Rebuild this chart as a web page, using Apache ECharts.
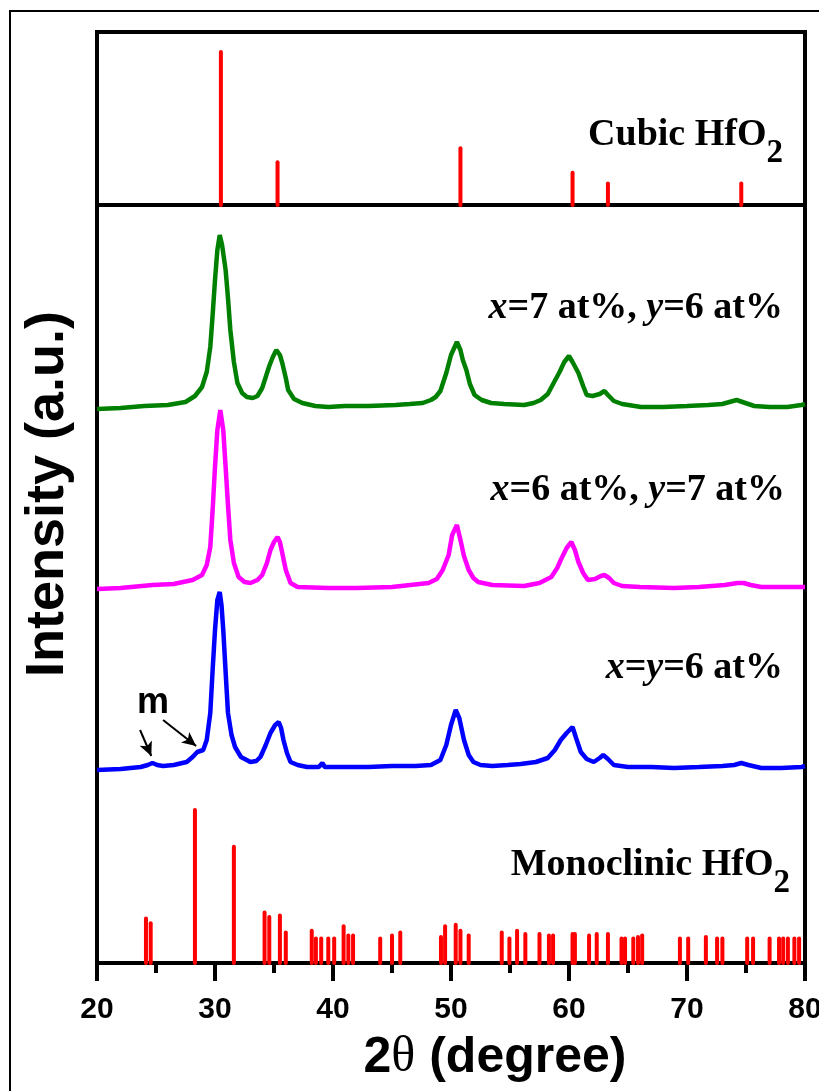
<!DOCTYPE html>
<html>
<head>
<meta charset="utf-8">
<script src="https://cdn.jsdelivr.net/npm/echarts@6/dist/echarts.min.js"></script>
<style>
html,body{margin:0;padding:0;background:#fff;}
#chart{width:819px;height:1091px;}
</style>
</head>
<body>
<div id="chart"></div>
<script>
// ---------- DATA ----------
const xMin = 20, xMax = 80, xStep = 10;

// Cubic HfO2 reference lines (2theta, relative intensity)
const cubicTheta = [30.5, 35.3, 50.8, 60.3, 63.3, 74.6];
const cubicInt   = [100, 28, 37, 21, 14, 14];

// Monoclinic HfO2 reference lines
const monoTheta = [24.15, 24.55, 28.3, 31.6, 34.2, 34.6, 35.5, 36.0, 38.2, 38.55, 39.0, 39.6, 40.1, 40.9, 41.3, 41.7,
  44.0, 45.0, 45.7, 49.15, 49.5, 50.4, 50.8, 51.5, 54.3, 54.95, 55.6, 56.3, 57.5, 58.3, 58.65, 60.3, 60.5,
  61.7, 62.35, 63.3, 64.45, 64.75, 65.45, 65.85, 66.2, 69.4, 70.1, 71.6, 72.55, 73.0, 75.1, 75.6, 77.0,
  77.8, 78.15, 78.55, 79.1, 79.5];
const monoInt = [29, 26, 100, 76, 33, 30, 31, 20, 21, 16, 16, 16, 16, 24, 18, 18,
  16, 18, 20, 17, 24, 25, 21, 18, 20, 16, 21, 19, 19, 18, 18, 19, 19,
  18, 19, 19, 16, 16, 16, 17, 18, 16, 16, 17, 16, 16, 16, 16, 16,
  16, 16, 16, 16, 16];

// XRD patterns (2theta, stacked intensity a.u.)
const greenCurve = [[20,381],[22,382],[24,384],[26,385],[27.5,388],[28.3,394],[28.9,403],[29.3,418],[29.6,443],[29.8,475],
  [30.0,510],[30.2,540],[30.4,555],[30.6,545],[30.9,520],[31.1,492],[31.3,460],[31.6,428],[31.9,407],[32.3,397],
  [32.7,393],[33.2,392],[33.6,394],[34.0,402],[34.3,413],[34.6,424],[34.9,433],[35.2,440],[35.5,435],[35.7,427],
  [36.0,412],[36.2,400],[36.7,391],[37.4,387],[38.5,384],[39.6,383],[41,384],[43,384],[45.3,385],[46.5,386],
  [47.6,387],[48.3,390],[48.7,393],[49.1,399],[49.6,417],[50.0,435],[50.5,448],[50.8,440],[51.0,430],[51.3,420],
  [51.6,406],[52.0,395],[52.6,390],[53.4,387],[54.5,386],[56.2,385],[57.0,387],[57.6,390],[58.2,396],[58.7,407],
  [59.2,418],[59.6,428],[60.0,434],[60.3,428],[60.8,417],[61.2,404],[61.5,395],[62.0,394],[62.6,396],[63.0,399],
  [63.3,395],[63.8,389],[64.5,386],[66.1,383],[68,383],[70,384],[71.8,385],[73.0,386],[74.2,390],[74.7,388],
  [75.7,384],[77,383],[78.5,383],[79.7,385],[80,386]];

const magentaCurve = [[20,201],[22,202],[24.7,205],[26.5,206],[28.1,210],[28.9,215],[29.3,225],[29.6,243],[29.8,280],
  [30.0,323],[30.2,360],[30.45,380],[30.7,360],[30.9,323],[31.1,285],[31.3,250],[31.6,227],[32.0,213],[32.5,208],
  [33.0,207],[33.6,210],[34.0,215],[34.4,227],[34.7,240],[35.0,248],[35.3,253],[35.5,248],[35.7,237],[36.0,220],
  [36.4,207],[37.0,203],[39.6,202],[42,202],[45,203],[48.1,207],[48.8,211],[49.3,220],[49.8,235],[50.1,255],
  [50.5,265],[50.8,250],[51.1,234],[51.5,220],[51.9,212],[52.3,208],[53.5,205],[56.2,204],[57.5,207],[58.5,213],
  [59.0,222],[59.3,230],[59.8,242],[60.2,248],[60.5,240],[60.8,228],[61.2,217],[61.6,210],[62.2,211],[62.7,214],
  [63.0,215],[63.4,212],[63.8,207],[64.5,204],[66,203],[68.9,202],[71,203],[73.2,205],[74.3,207],[74.8,207],
  [75.4,205],[76.3,203],[78,203],[80,203]];

const blueCurve = [[20,20],[22,21],[23.7,23],[24.3,25],[24.7,27],[25.1,25],[25.6,24],[26.5,25],[27.6,28],[28.1,33],
  [28.5,38],[29.0,40],[29.3,50],[29.6,77],[29.8,120],[30.0,160],[30.2,190],[30.4,198],[30.55,185],[30.7,160],
  [30.9,118],[31.1,77],[31.4,55],[31.7,43],[32.2,33],[33.0,28],[33.5,29],[33.85,33],[34.3,45],[34.7,57],
  [35.1,65],[35.4,68],[35.6,62],[35.8,50],[36.1,37],[36.4,28],[37.0,25],[37.8,23],[38.8,23],[39.1,27],
  [39.3,23],[41,23],[43,23],[45,24],[47,24],[48.3,25],[49.1,30],[49.6,45],[50.0,65],[50.4,80],
  [50.7,72],[51.1,50],[51.5,35],[51.9,28],[52.5,25],[53.5,24],[54.8,25],[55.9,26],[57.2,28],[58.2,32],
  [58.8,40],[59.3,50],[59.8,57],[60.3,63],[60.6,52],[61.0,38],[61.5,31],[62.1,28],[62.6,32],[62.9,35],
  [63.3,31],[63.8,25],[65,23],[67,23],[68.9,22],[71,23],[73,24],[74.0,25],[74.6,27],[75.2,25],
  [76.3,22],[78,22],[79.7,23],[80,24]];

// "m" arrows (start -> end, in pattern coordinates)
const mArrows = [[[23.65,60],[24.6,34]], [[25.6,70],[28.4,44]]];

const cubicMax = 113, patternMax = 585, monoMax = 113;

// ---------- CHART ----------
const SANS = "'Liberation Sans', Arial, sans-serif";
const SERIF = "'Liberation Serif', 'Times New Roman', serif";
const chart = echarts.init(document.getElementById('chart'));

function lineAxis(gridIndex, pos, max) {
  return {type:'value', gridIndex, position:pos, min:0, max,
    axisLine:{show:true, onZero:false, lineStyle:{color:'#000', width:4}},
    axisTick:{show:false}, axisLabel:{show:false}, splitLine:{show:false}};
}
function hiddenX(gridIndex) {
  return {type:'value', gridIndex, min:xMin, max:xMax, interval:xStep, show:false, splitLine:{show:false}};
}
function stemRender(params, api) {
  const p0 = api.coord([api.value(0), 0]);
  const p1 = api.coord([api.value(0), api.value(1)]);
  return {type:'line', shape:{x1:p0[0], y1:p0[1], x2:p1[0], y2:p1[1]},
    style:{stroke:'#ff0000', lineWidth:4, lineCap:'round'}};
}
const labelRich = {
  m:{fontFamily:SERIF, fontWeight:'bold', fontSize:38, lineHeight:38, color:'#000'},
  i:{fontFamily:SERIF, fontWeight:'bold', fontStyle:'italic', fontSize:38, lineHeight:38, color:'#000'},
  s:{fontFamily:SERIF, fontWeight:'bold', fontSize:33, lineHeight:33, padding:[36,0,0,0], color:'#000'}
};
function panelText(text, right, cy) {
  return {type:'text', x: right, y: cy, z:10,
    style:{text, rich:labelRich, align:'right', verticalAlign:'middle', textAlign:'right', textVerticalAlign:'middle'}};
}
const gridBase = {left:97, right:14, containLabel:false, outerBoundsMode:'none'};

chart.setOption({
  animation:false,
  backgroundColor:'#fff',
  grid:[
    Object.assign({top:32, height:173, show:true, borderColor:'#000', borderWidth:4, backgroundColor:'transparent'}, gridBase),
    Object.assign({top:205, height:585}, gridBase),
    Object.assign({top:790, height:173}, gridBase)
  ],
  xAxis:[
    hiddenX(0), hiddenX(1),
    {type:'value', gridIndex:2, min:xMin, max:xMax, interval:xStep,
     axisLine:{show:true, onZero:false, lineStyle:{color:'#000', width:4}},
     axisTick:{show:true, length:18, lineStyle:{color:'#000', width:4}},
     minorTick:{show:true, splitNumber:2, length:10, lineStyle:{color:'#000', width:4}},
     axisLabel:{color:'#000', fontFamily:SANS, fontWeight:'bold', fontSize:30, margin:32},
     splitLine:{show:false}}
  ],
  yAxis:[
    {type:'value', gridIndex:0, min:0, max:cubicMax, show:false, splitLine:{show:false}},
    lineAxis(1,'left',patternMax), lineAxis(1,'right',patternMax),
    lineAxis(2,'left',monoMax), lineAxis(2,'right',monoMax)
  ],
  series:[
    {type:'custom', xAxisIndex:0, yAxisIndex:0, renderItem:stemRender, z:3,
     data: cubicTheta.map((t,i)=>[t, cubicInt[i]])},
    {type:'custom', xAxisIndex:2, yAxisIndex:3, renderItem:stemRender, z:3,
     data: monoTheta.map((t,i)=>[t, monoInt[i]])},
    {type:'line', xAxisIndex:1, yAxisIndex:1, data:greenCurve, showSymbol:false, z:5,
     lineStyle:{color:'#008000', width:4.5}},
    {type:'line', xAxisIndex:1, yAxisIndex:1, data:magentaCurve, showSymbol:false, z:5,
     lineStyle:{color:'#ff00ff', width:4.5}},
    {type:'line', xAxisIndex:1, yAxisIndex:1, data:blueCurve, showSymbol:false, z:5,
     lineStyle:{color:'#0000ff', width:4.5},
     markLine:{silent:true, symbol:['none','arrow'], symbolSize:[10,14], label:{show:false},
       lineStyle:{color:'#000', width:2, type:'solid'},
       data: mArrows.map(a=>[{coord:a[0]},{coord:a[1]}])}}
  ],
  graphic:[
    {type:'rect', shape:{x:10, y:11, width:900, height:1200}, style:{fill:'none', stroke:'#000', lineWidth:2}, z:0},
    panelText('{m|Cubic HfO}{s|2}', 783, 135),
    panelText('{i|x}{m|=7 at%, }{i|y}{m|=6 at%}', 783, 308),
    panelText('{i|x}{m|=6 at%, }{i|y}{m|=7 at%}', 785, 490),
    panelText('{i|x}{m|=}{i|y}{m|=6 at%}', 783, 668),
    panelText('{m|Monoclinic HfO}{s|2}', 790, 865),
    {type:'text', x:153, y:703, z:10,
     style:{text:'m', font:"bold 36px " + SANS, fill:'#000', align:'center', verticalAlign:'middle', textAlign:'center', textVerticalAlign:'middle'}},
    {type:'text', x:48, y:494, rotation:Math.PI/2, z:10,
     style:{text:'Intensity (a.u.)', font:"bold 54px " + SANS, fill:'#000', align:'center', verticalAlign:'middle', textAlign:'center', textVerticalAlign:'middle'}},
    {type:'text', x:495, y:1058, z:10,
     style:{text:'{b|2}{t|θ}{b| (degree)}', align:'center', verticalAlign:'middle', textAlign:'center', textVerticalAlign:'middle',
       rich:{b:{fontFamily:SANS, fontWeight:'bold', fontSize:50, lineHeight:56, color:'#000'},
             t:{fontFamily:SERIF, fontSize:50, lineHeight:56, color:'#000'}}}}
  ]
});
</script>
</body>
</html>
